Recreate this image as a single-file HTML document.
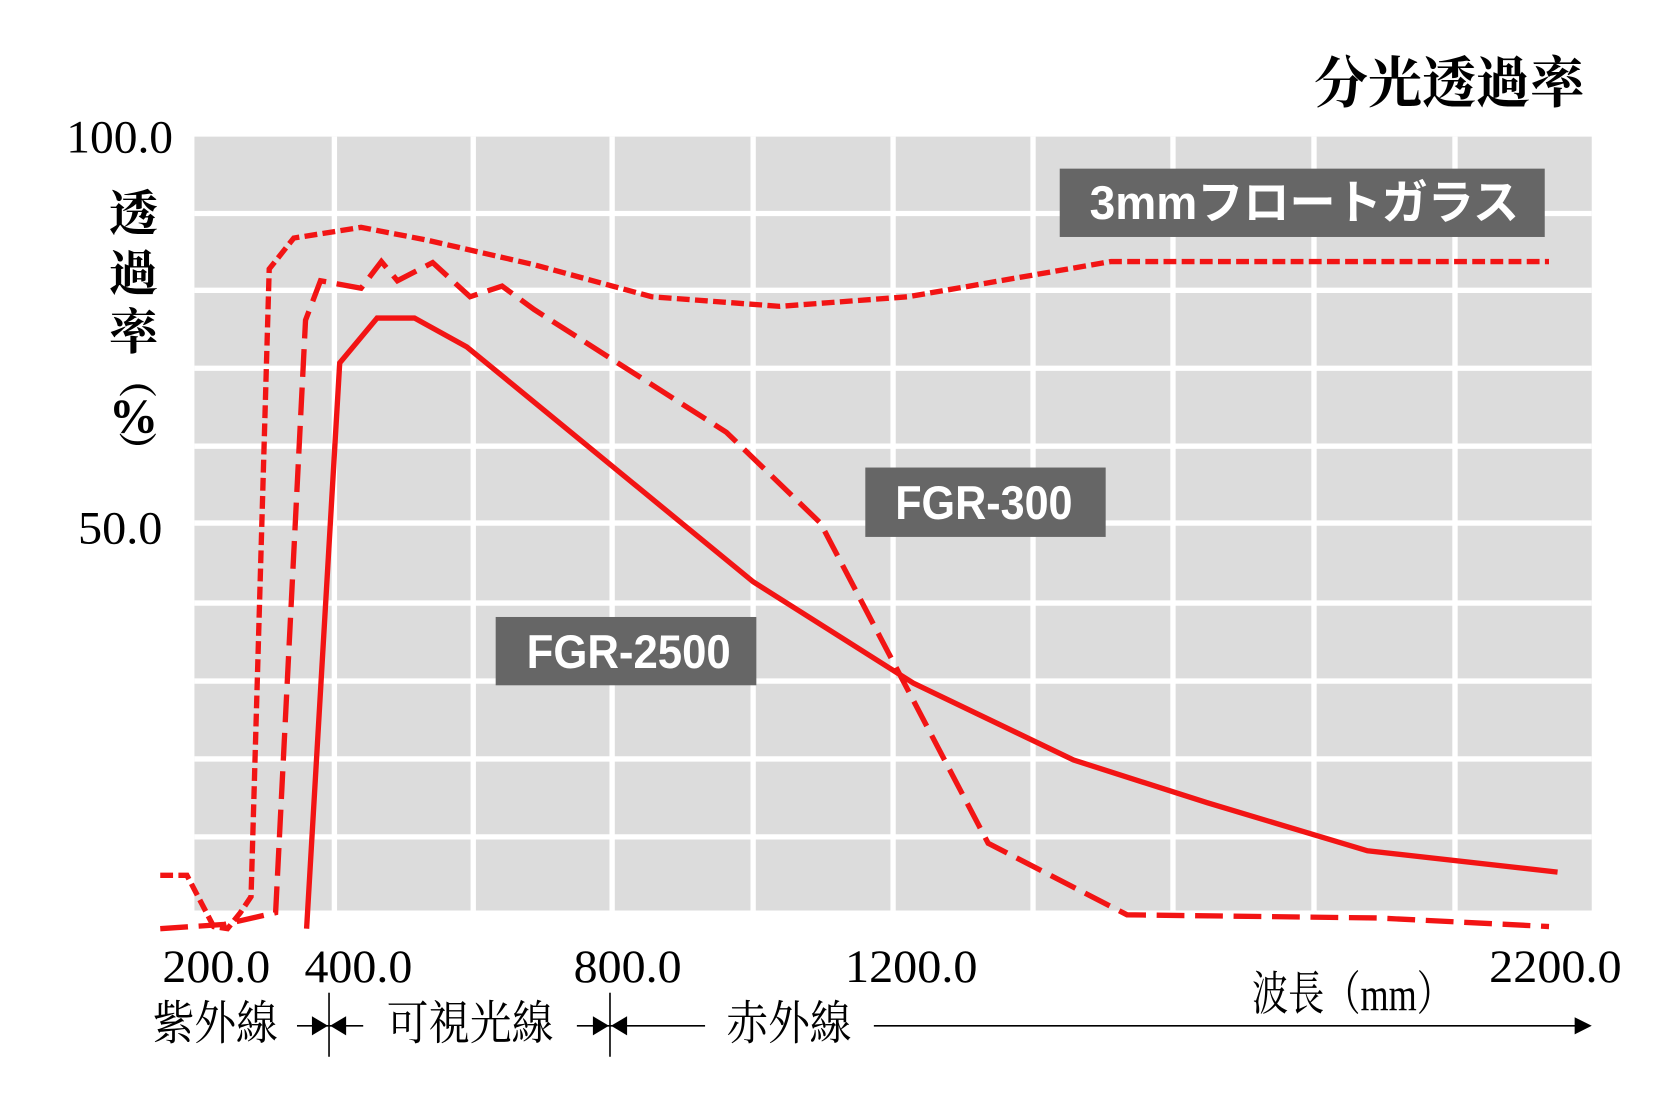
<!DOCTYPE html>
<html><head><meta charset="utf-8"><style>
html,body{margin:0;padding:0;background:#fff;}
svg{display:block;}
.serif{font-family:"Liberation Serif","Noto Serif CJK SC",serif;}
.lab{font-family:"Liberation Sans","Noto Sans CJK JP",sans-serif;font-weight:bold;fill:#fff;}
</style></head><body>
<svg width="1674" height="1108" viewBox="0 0 1567 1038" preserveAspectRatio="none" xmlns="http://www.w3.org/2000/svg">
<rect x="182" y="128" width="1308" height="725" fill="#dcdcdc"/>
<g stroke="#fff" stroke-width="5">
<line x1="313" y1="128" x2="313" y2="853"/><line x1="443" y1="128" x2="443" y2="853"/>
<line x1="573" y1="128" x2="573" y2="853"/><line x1="705" y1="128" x2="705" y2="853"/>
<line x1="836" y1="128" x2="836" y2="853"/><line x1="967" y1="128" x2="967" y2="853"/>
<line x1="1098" y1="128" x2="1098" y2="853"/><line x1="1230" y1="128" x2="1230" y2="853"/>
<line x1="1362" y1="128" x2="1362" y2="853"/>
<line x1="182" y1="200" x2="1490" y2="200"/><line x1="182" y1="272" x2="1490" y2="272"/>
<line x1="182" y1="345" x2="1490" y2="345"/><line x1="182" y1="418" x2="1490" y2="418"/>
<line x1="182" y1="490" x2="1490" y2="490"/><line x1="182" y1="565" x2="1490" y2="565"/>
<line x1="182" y1="638" x2="1490" y2="638"/><line x1="182" y1="711" x2="1490" y2="711"/>
<line x1="182" y1="784" x2="1490" y2="784"/>
</g>
<g fill="none" stroke="#f21414" stroke-width="5">
<polyline stroke-dasharray="12 5" points="150,820 175,820 200,868 213,870 225,855 235,840 252,252 275,223 338,213 400,225 500,248 610,278 730,287 850,278 1040,245 1450,245"/>
<polyline stroke-dasharray="26 10" points="150,870 210,866 258,855 286,300 300,263 338,270 357,245 372,263 405,246 440,278 470,268 500,290 680,405 768,490 925,790 1055,857 1290,860 1450,868"/>
<polyline points="287,870 318,340 353,298 388,298 437,325 705,545 855,640 1005,712 1130,752 1280,797 1458,817"/>
</g>
<rect x="992" y="158" width="454" height="64" fill="#666"/>
<text class="lab" x="1020" y="205" font-size="44" textLength="402" lengthAdjust="spacingAndGlyphs">3mmフロートガラス</text>
<rect x="810" y="438" width="225" height="65" fill="#666"/>
<text class="lab" x="838" y="486" font-size="44" textLength="166" lengthAdjust="spacingAndGlyphs">FGR-300</text>
<rect x="464" y="578" width="244" height="64" fill="#666"/>
<text class="lab" x="493" y="626" font-size="44" textLength="191" lengthAdjust="spacingAndGlyphs">FGR-2500</text>
<text class="serif" x="1230" y="96" font-size="52" font-weight="bold" textLength="253" lengthAdjust="spacingAndGlyphs">分光透過率</text>
<g class="serif" font-size="46" font-weight="bold" text-anchor="middle">
<text x="125" y="216">透</text><text x="125" y="272">過</text><text x="125" y="327">率</text>
<text x="125" y="365" font-size="36" transform="rotate(90 125 355)">（</text>
<text x="125" y="405">%</text>
<text x="125" y="432" font-size="36" transform="rotate(90 125 422)">）</text>
</g>
<g class="serif" font-size="44" lengthAdjust="spacingAndGlyphs">
<text x="62" y="143" textLength="100" lengthAdjust="spacingAndGlyphs">100.0</text>
<text x="73" y="509" textLength="79" lengthAdjust="spacingAndGlyphs">50.0</text>
<text x="152" y="920" textLength="101" lengthAdjust="spacingAndGlyphs">200.0</text>
<text x="285" y="920" textLength="101" lengthAdjust="spacingAndGlyphs">400.0</text>
<text x="537" y="920" textLength="101" lengthAdjust="spacingAndGlyphs">800.0</text>
<text x="791" y="920" textLength="124" lengthAdjust="spacingAndGlyphs">1200.0</text>
<text x="1394" y="920" textLength="124" lengthAdjust="spacingAndGlyphs">2200.0</text>
<text x="1172" y="946" textLength="188" lengthAdjust="spacingAndGlyphs">波長（mm）</text>
<text x="143" y="974" textLength="117" lengthAdjust="spacingAndGlyphs">紫外線</text>
<text x="362" y="974" textLength="156" lengthAdjust="spacingAndGlyphs">可視光線</text>
<text x="680" y="974" textLength="117" lengthAdjust="spacingAndGlyphs">赤外線</text>
</g>
<g stroke="#000" stroke-width="1.5">
<line x1="308" y1="930" x2="308" y2="990"/><line x1="571" y1="930" x2="571" y2="990"/>
<line x1="278" y1="961" x2="340" y2="961"/><line x1="540" y1="961" x2="660" y2="961"/>
<line x1="818" y1="961" x2="1478" y2="961"/>
</g>
<g fill="#000">
<polygon points="292,952 307,961 292,970"/><polygon points="324,952 309,961 324,970"/>
<polygon points="555,952 570,961 555,970"/><polygon points="587,952 572,961 587,970"/>
<polygon points="1474,953 1490,961 1474,969"/>
</g>
</svg>
</body></html>
